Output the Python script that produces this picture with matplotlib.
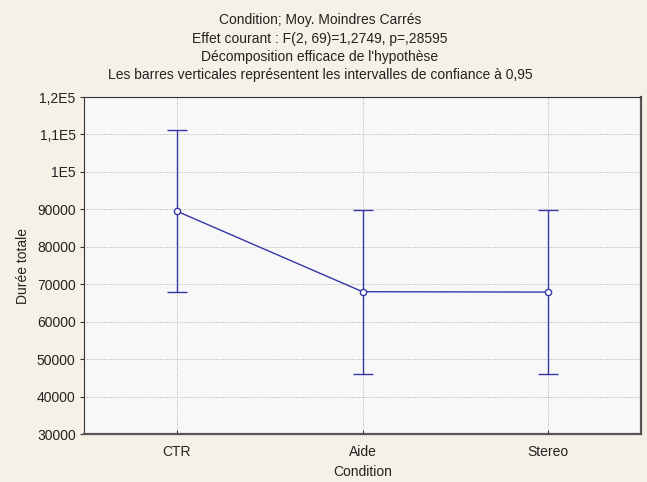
import matplotlib
matplotlib.use("Agg")
import matplotlib.pyplot as plt

categories = ["CTR", "Aide", "Stereo"]
means = [89500, 68000, 67900]
ci_half = [21700, 21900, 21900]
yticks = [30000, 40000, 50000, 60000, 70000, 80000, 90000, 100000, 110000, 120000]
ytick_labels = ["30000", "40000", "50000", "60000", "70000", "80000", "90000", "1E5", "1,1E5", "1,2E5"]
title_lines = [
    "Condition; Moy. Moindres Carrés",
    "Effet courant : F(2, 69)=1,2749, p=,28595",
    "Décomposition efficace de l'hypothèse",
    "Les barres verticales représentent les intervalles de confiance à 0,95",
]

plt.rcParams['font.family'] = ['Liberation Sans', 'DejaVu Sans']

fig = plt.figure(figsize=(6.47, 4.82), dpi=100, facecolor="#F6F1E6")
W, H = 647, 482
ax = fig.add_axes([84 / W, 1 - 434 / H, (641 - 84) / W, (434 - 97) / H])
ax.set_facecolor("#F8F8F8")

x = list(range(len(categories)))
col = "#3636A8"
ax.errorbar(x, means, yerr=ci_half, color=col, lw=1.0, capsize=7, capthick=1.0,
            marker="o", markersize=4.5, markerfacecolor="white", markeredgecolor=col,
            markeredgewidth=1.0, zorder=3)

ax.set_xlim(-0.5, 2.5)
ax.set_ylim(30000, 120000)
ax.set_xticks(x)
ax.set_xticklabels(categories, fontsize=10, color="#222222")
ax.set_yticks(yticks)
ax.set_yticklabels(ytick_labels, fontsize=10, color="#222222")
ax.tick_params(axis="y", direction="out", length=3, width=0.8, color="#333333", pad=3)
ax.tick_params(axis="x", direction="in", length=3, width=0.8, color="#333333", pad=8)
ax.grid(True, color="#B0B0B0", linestyle=(0, (1, 1.5)), linewidth=0.7, zorder=0)

for s in ["left", "top"]:
    ax.spines[s].set_color("#333333")
    ax.spines[s].set_linewidth(0.8)
for s in ["right", "bottom"]:
    ax.spines[s].set_color("#555555")
    ax.spines[s].set_linewidth(1.6)

ax.set_xlabel("Condition", fontsize=10, color="#222222", labelpad=4)
ax.set_ylabel("Durée totale", fontsize=10, color="#222222", labelpad=5)

ys = [20, 39, 57, 75]
for t, yy in zip(title_lines, ys):
    fig.text(320 / W, 1 - yy / H, t, ha="center", va="center", fontsize=10, color="#222222")

fig.savefig("out.png", dpi=100, facecolor=fig.get_facecolor())
